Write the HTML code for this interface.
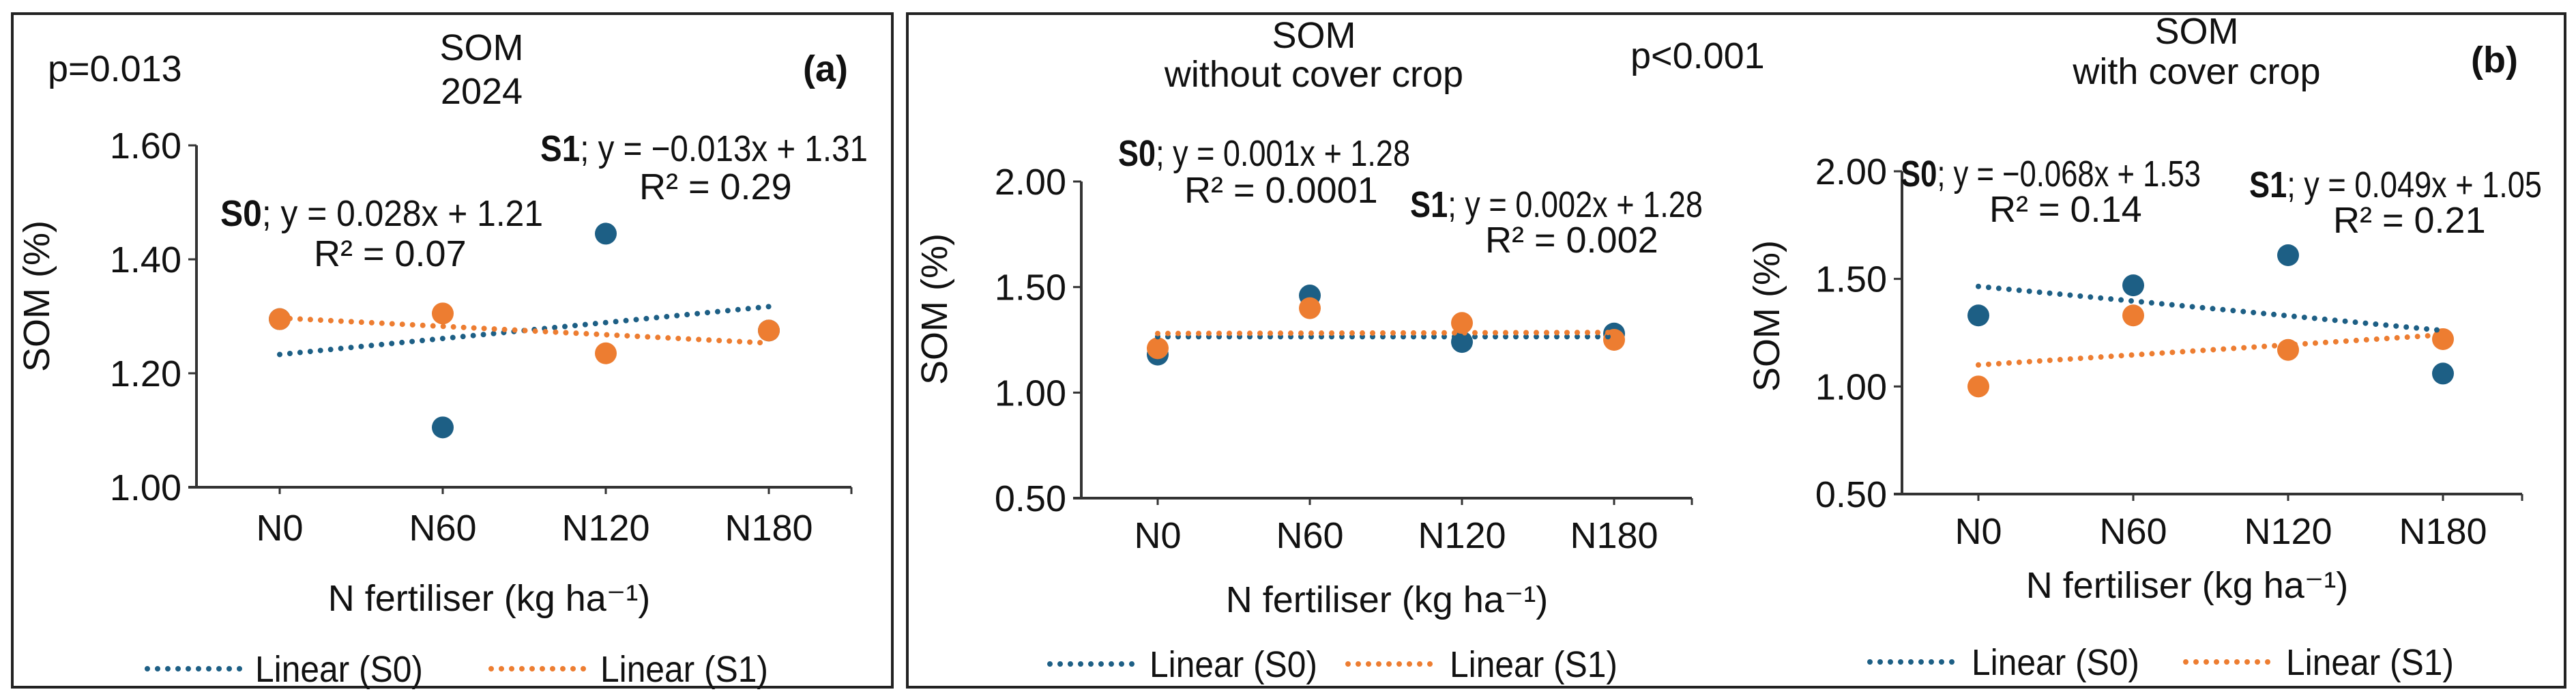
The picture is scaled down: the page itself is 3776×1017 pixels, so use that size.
<!DOCTYPE html>
<html><head><meta charset="utf-8"><style>
html,body{margin:0;padding:0;background:#fff;}
svg{display:block;font-family:"Liberation Sans",Arial,sans-serif;}
</style></head><body>
<svg id="fig" width="3776" height="1017" viewBox="0 0 3776 1017" xmlns="http://www.w3.org/2000/svg">
<rect x="0" y="0" width="3776" height="1017" fill="#fff"/>
<rect x="18" y="20" width="1290" height="987" fill="none" stroke="#222" stroke-width="4"/>
<rect x="1330" y="20" width="2430" height="987" fill="none" stroke="#222" stroke-width="4"/>
<g id="layer"></g>
</svg>
<script>
const categories = ["N0","N60","N120","N180"];
// Panel a
const aS0 = [1.295, 1.105, 1.445, 1.275];
const aS1 = [1.295, 1.305, 1.235, 1.275];
const aTrendS0 = [1.233, 1.317];
const aTrendS1 = [1.297, 1.253];
const aTicks = ["1.00","1.20","1.40","1.60"];
// Panel b - without cover crop
const bS0 = [1.18, 1.46, 1.24, 1.28];
const bS1 = [1.21, 1.40, 1.33, 1.25];
const bTrendS0 = [1.265, 1.265];
const bTrendS1 = [1.28, 1.285];
const bTicks = ["0.50","1.00","1.50","2.00"];
// Panel c - with cover crop
const cS0 = [1.33, 1.47, 1.61, 1.06];
const cS1 = [1.00, 1.33, 1.17, 1.22];
const cTrendS0 = [1.465, 1.26];
const cTrendS1 = [1.10, 1.24];
const cTicks = ["0.50","1.00","1.50","2.00"];

const BLUE="#1d5f85", ORANGE="#ed7d31", NS="http://www.w3.org/2000/svg", FS=54;
const layer=document.getElementById('layer');
function mk(tag,attrs,parent){const e=document.createElementNS(NS,tag);for(const k in attrs)e.setAttribute(k,attrs[k]);(parent||layer).appendChild(e);return e;}
function txt(x,y,s,opts,parent){const e=mk('text',Object.assign({x:x,y:y,'font-size':FS,fill:'#111'},opts||{}),parent);e.textContent=s;return e;}
function eq(x,y,bold,rest,name,w){const t=txt(x,y,'',{textLength:w,lengthAdjust:'spacingAndGlyphs'});
 const b=mk('tspan',{'font-weight':'bold'},t);b.textContent=bold;const r=mk('tspan',{},t);r.textContent=rest;}

function panel(p){
 const g=mk('g',{});
 
 
 const ymin=parseFloat(p.ticks[0]), ymax=parseFloat(p.ticks[p.ticks.length-1]);
 const Y=v=>p.yBot-(v-ymin)/(ymax-ymin)*(p.yBot-p.yTop);
 const X=i=>p.x0+i*p.dx;
 const ya=mk('line',{x1:p.ax,y1:p.yTop,x2:p.ax,y2:p.yBot,stroke:'#333','stroke-width':4},g);
 
 const xa=mk('line',{x1:p.ax-12,y1:p.yBot,x2:p.xEnd,y2:p.yBot,stroke:'#333','stroke-width':4},g);
 
 mk('line',{x1:p.xEnd,y1:p.yBot,x2:p.xEnd,y2:p.yBot+10,stroke:'#333','stroke-width':3},g);
 p.ticks.forEach(t=>{const y=Y(parseFloat(t));
  mk('line',{x1:p.ax-12,y1:y,x2:p.ax,y2:y,stroke:'#333','stroke-width':3},g);
  const l=txt(p.ax-22,y+19,t,{'text-anchor':'end'},g);
  });
 categories.forEach((c,i)=>{mk('line',{x1:X(i),y1:p.yBot,x2:X(i),y2:p.yBot+10,stroke:'#333','stroke-width':3},g);
  const l=txt(X(i),p.tickBase,c,{'text-anchor':'middle'},g);
  });
 [[p.s0,BLUE,'s0'],[p.s1,ORANGE,'s1']].forEach(([arr,col,nm])=>arr.forEach((v,i)=>{
  const c=mk('circle',{cx:X(i),cy:Y(v),r:16,fill:col},g);
  
  }));
 [[p.t0,BLUE,'s0'],[p.t1,ORANGE,'s1']].forEach(([t,col,nm])=>{
  const l=mk('line',{x1:X(0),y1:Y(t[0]),x2:X(3),y2:Y(t[1]),stroke:col,'stroke-width':8,'stroke-dasharray':'0 15','stroke-linecap':'round'},g);
  });
 const yt=txt(0,0,'SOM (%)',{'text-anchor':'middle',transform:`translate(${p.ytX},${p.ytY}) rotate(-90)`},g);
 
 const xt=txt(p.xtX,p.xtY,'N fertiliser (kg ha⁻¹)',{'text-anchor':'middle'},g);
 
 const lg=p.leg;
 const l0=mk('line',{x1:lg[0],y1:lg[4],x2:lg[1],y2:lg[4],stroke:BLUE,'stroke-width':8,'stroke-dasharray':'0 15','stroke-linecap':'round'},g);
 
 const lt0=txt(lg[1]+18,lg[4]+19,'Linear (S0)',{textLength:246,lengthAdjust:'spacingAndGlyphs'},g);
 
 const l1=mk('line',{x1:lg[2],y1:lg[4],x2:lg[3],y2:lg[4],stroke:ORANGE,'stroke-width':8,'stroke-dasharray':'0 15','stroke-linecap':'round'},g);
 
 const lt1=txt(lg[3]+18,lg[4]+19,'Linear (S1)',{textLength:246,lengthAdjust:'spacingAndGlyphs'},g);
 
}

panel({name:'chart-a',ticks:aTicks,s0:aS0,s1:aS1,t0:aTrendS0,t1:aTrendS1,ax:288,yTop:213,yBot:714,x0:410,dx:239,xEnd:1248,tickBase:792,ytX:72,ytY:434,xtX:717,xtY:895,leg:[216,356,720,862,980]});
panel({name:'chart-b-without-cover',ticks:bTicks,s0:bS0,s1:bS1,t0:bTrendS0,t1:bTrendS1,ax:1585,yTop:266,yBot:730,x0:1697,dx:223,xEnd:2480,tickBase:803,ytX:1388,ytY:453,xtX:2033,xtY:897,leg:[1539,1667,1976,2107,973]});
panel({name:'chart-c-with-cover',ticks:cTicks,s0:cS0,s1:cS1,t0:cTrendS0,t1:cTrendS1,ax:2788,yTop:251,yBot:724,x0:2900,dx:227,xEnd:3697,tickBase:797,ytX:2608,ytY:463,xtX:3206,xtY:876,leg:[2741,2872,3204,3333,970]});

function lab(x,y,s,name,opts){const t=txt(x,y,s,opts||{});}
lab(70,119,'p=0.013','p-value-a');
lab(706,88,'SOM','title-a-line1',{'text-anchor':'middle'});
lab(706,152,'2024','title-a-line2',{'text-anchor':'middle'});
lab(1243,119,'(a)','panel-label-a',{'text-anchor':'end','font-weight':'bold'});
eq(792,236,'S1','; y = −0.013x + 1.31','equation-a-s1',480);
lab(937,292,'R² = 0.29','r2-a-s1');
eq(323,331,'S0','; y = 0.028x + 1.21','equation-a-s0',473);
lab(460,390,'R² = 0.07','r2-a-s0');

lab(1926,70,'SOM','title-b-line1',{'text-anchor':'middle'});
lab(1926,127,'without cover crop','title-b-line2',{'text-anchor':'middle'});
lab(2390,100,'p<0.001','p-value-b');
eq(1639,243,'S0','; y = 0.001x + 1.28','equation-b-s0',428);
lab(1736,297,'R² = 0.0001','r2-b-s0');
eq(2067,318,'S1','; y = 0.002x + 1.28','equation-b-s1',429);
lab(2177,370,'R² = 0.002','r2-b-s1');

lab(3220,64,'SOM','title-c-line1',{'text-anchor':'middle'});
lab(3220,123,'with cover crop','title-c-line2',{'text-anchor':'middle'});
lab(3691,106,'(b)','panel-label-b',{'text-anchor':'end','font-weight':'bold'});
eq(2786,273,'S0','; y = −0.068x + 1.53','equation-c-s0',440);
lab(2916,325,'R² = 0.14','r2-c-s0');
eq(3297,289,'S1','; y = 0.049x + 1.05','equation-c-s1',429);
lab(3420,341,'R² = 0.21','r2-c-s1');
</script>
</body></html>
